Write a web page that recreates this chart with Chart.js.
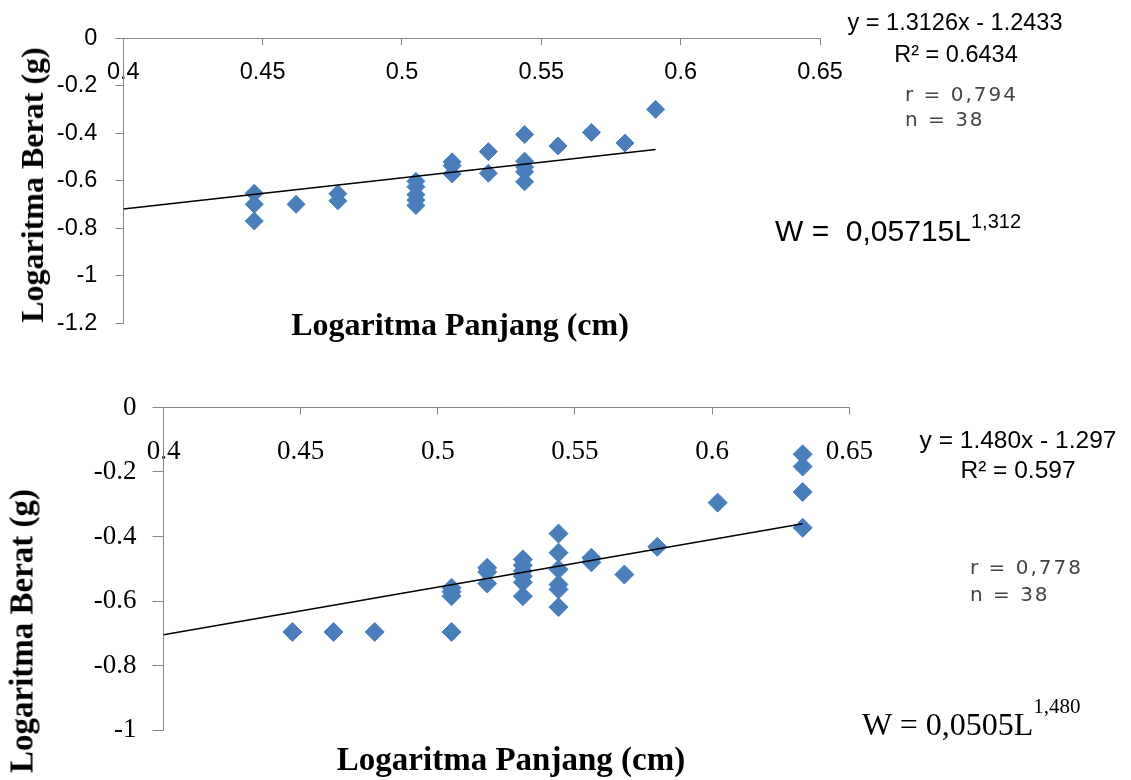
<!DOCTYPE html>
<html>
<head>
<meta charset="utf-8">
<script src="https://cdn.jsdelivr.net/npm/chart.js@4.4.1/dist/chart.umd.min.js"></script>
<style>
html,body{margin:0;padding:0;background:#fff;}
#wrap{position:relative;width:1131px;height:780px;overflow:hidden;background:#fff;}
canvas{position:absolute;left:0;}
.t{position:absolute;white-space:nowrap;line-height:1;color:#000;}
.c{transform:translate(-50%,-50%);}
.v{transform:translate(-50%,-50%) rotate(-90deg);}
.ttl{font-family:'Liberation Serif','Times New Roman',serif;font-weight:bold;}
.sans{font-family:'Liberation Sans',Arial,sans-serif;}
.gray{font-family:'DejaVu Sans',Verdana,sans-serif;color:#444;letter-spacing:2px;transform:translateY(-50%);}
.serif{font-family:'Liberation Serif','Times New Roman',serif;}
.sup{position:relative;}
</style>
</head>
<body>
<div id="wrap">
  <canvas id="c1" width="1131" height="360" style="top:0"></canvas>
  <canvas id="c2" width="1131" height="420" style="top:360px"></canvas>

  <!-- top chart texts -->
  <div class="t ttl v" style="left:32px;top:185px;font-size:32px;">Logaritma Berat (g)</div>
  <div class="t ttl c" style="left:460px;top:324px;font-size:32px;">Logaritma Panjang (cm)</div>
  <div class="t sans c" style="left:955px;top:23px;font-size:23.5px;">y = 1.3126x - 1.2433</div>
  <div class="t sans c" style="left:956px;top:55px;font-size:23.5px;">R² = 0.6434</div>
  <div class="t gray" style="left:905px;top:94px;font-size:20px;">r = 0,794</div>
  <div class="t gray" style="left:905px;top:119px;font-size:20px;">n = 38</div>
  <div class="t sans" style="left:775px;top:216px;font-size:30px;">W =&nbsp; 0,05715L<span class="sup" style="font-size:20px;top:-13px;">1,312</span></div>

  <!-- bottom chart texts -->
  <div class="t ttl v" style="left:22px;top:631px;font-size:33px;">Logaritma Berat (g)</div>
  <div class="t ttl c" style="left:511px;top:759px;font-size:33px;">Logaritma Panjang (cm)</div>
  <div class="t sans c" style="left:1018px;top:440px;font-size:24.5px;">y = 1.480x - 1.297</div>
  <div class="t sans c" style="left:1018px;top:470px;font-size:24.5px;">R² = 0.597</div>
  <div class="t gray" style="left:970px;top:567px;font-size:20px;">r = 0,778</div>
  <div class="t gray" style="left:970px;top:594px;font-size:20px;">n = 38</div>
  <div class="t serif" style="left:862px;top:708px;font-size:32px;">W = 0,0505L<span class="sup" style="font-size:21px;top:-22px;">1,480</span></div>
</div>

<script>
// ---------- data ----------
const xTickValues = [0.4, 0.45, 0.5, 0.55, 0.6, 0.65];
const yTickValuesTop = [0, -0.2, -0.4, -0.6, -0.8, -1, -1.2];
const yTickValuesBottom = [0, -0.2, -0.4, -0.6, -0.8, -1];

// top chart: log length vs log weight
const topLogL = [0.447,0.447,0.447,0.462,0.477,0.477,0.505,0.505,0.505,0.505,0.505,0.518,0.518,0.518,0.531,0.531,0.544,0.544,0.544,0.544,0.544,0.556,0.568,0.580,0.591];
const topLogW = [-0.652,-0.699,-0.769,-0.699,-0.654,-0.684,-0.602,-0.625,-0.658,-0.681,-0.704,-0.520,-0.536,-0.571,-0.477,-0.568,-0.405,-0.517,-0.542,-0.562,-0.604,-0.453,-0.396,-0.441,-0.299];
const topTrend = [1.3126, -1.2433]; // slope, intercept

// bottom chart
const botLogL = [0.447,0.462,0.477,0.505,0.505,0.505,0.505,0.518,0.518,0.518,0.531,0.531,0.531,0.531,0.531,0.531,0.544,0.544,0.544,0.544,0.544,0.544,0.556,0.556,0.568,0.580,0.602,0.633,0.633,0.633,0.633];
const botLogW = [-0.696,-0.696,-0.696,-0.559,-0.571,-0.585,-0.696,-0.497,-0.510,-0.546,-0.471,-0.489,-0.507,-0.523,-0.542,-0.585,-0.391,-0.450,-0.502,-0.549,-0.564,-0.619,-0.466,-0.480,-0.518,-0.432,-0.295,-0.145,-0.183,-0.262,-0.373];
const botTrend = [1.480, -1.297];

// ---------- drawing ----------
const BLUE = '#4A7EBB';
const AXIS = '#868686';

function makeChart(canvasId, xs, ys, trend, yTicks, geo) {
  const xStart = xTickValues[0];
  const xEnd = Math.max(...xs);
  const pts = xs.map((x, i) => ({x: x, y: ys[i]}));
  const line = [xStart, xEnd].map(x => ({x: x, y: trend[0] * x + trend[1]}));
  const fmt = v => String(Math.round(v * 100) / 100);
  return new Chart(document.getElementById(canvasId), {
    type: 'scatter',
    data: {
      datasets: [
        {data: line, showLine: true, borderColor: '#000', borderWidth: 1.5, pointRadius: 0, pointHoverRadius: 0, fill: false},
        {data: pts, pointStyle: 'rectRot', pointRadius: geo.r, pointHoverRadius: geo.r, backgroundColor: BLUE, borderColor: BLUE, borderWidth: 1}
      ]
    },
    options: {
      responsive: false,
      animation: false,
      events: [],
      layout: {padding: {left: 0, top: 0, right: geo.padRight, bottom: geo.padBottom}},
      plugins: {legend: {display: false}, tooltip: {enabled: false}},
      scales: {
        x: {
          type: 'linear', position: 'top',
          min: xTickValues[0], max: xTickValues[xTickValues.length - 1],
          afterBuildTicks: s => { s.ticks = xTickValues.map(v => ({value: v})); },
          afterFit: s => { s.height = geo.xHeight; },
          grid: {drawOnChartArea: false, tickLength: -7, color: AXIS, tickWidth: 1},
          border: {color: AXIS, width: 1},
          ticks: {mirror: true, padding: geo.xPad, autoSkip: false, maxRotation: 0, color: '#000',
                  font: {family: geo.font, size: geo.fs}, callback: v => fmt(v)}
        },
        y: {
          type: 'linear', position: 'left',
          min: yTicks[yTicks.length - 1], max: yTicks[0],
          afterBuildTicks: s => { s.ticks = yTicks.map(v => ({value: v})); },
          afterFit: s => { s.width = geo.yWidth; },
          grid: {drawOnChartArea: false, tickLength: geo.yTick, color: AXIS, tickWidth: 1},
          border: {color: AXIS, width: 1},
          ticks: {padding: geo.yPad, autoSkip: false, color: '#000',
                  font: {family: geo.font, size: geo.fs}, callback: v => fmt(v)}
        }
      }
    }
  });
}

makeChart('c1', topLogL, topLogW, topTrend, yTickValuesTop, {
  r: 9, padRight: 1131 - 820, padBottom: 360 - 323.4, xHeight: 38.3, yWidth: 123.3,
  xPad: 20.5, yPad: 18, yTick: 8, font: "'Liberation Sans', Arial, sans-serif", fs: 23.5
});
makeChart('c2', botLogL, botLogW, botTrend, yTickValuesBottom, {
  r: 9.5, padRight: 1131 - 849.3, padBottom: 420 - 370, xHeight: 47.5, yWidth: 163.5,
  xPad: 28, yPad: 16, yTick: 11, font: "'Liberation Serif', 'Times New Roman', serif", fs: 27
});
</script>
</body>
</html>
